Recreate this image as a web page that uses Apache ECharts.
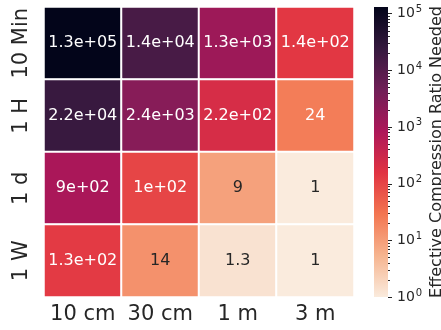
<!DOCTYPE html>
<html>
<head>
<meta charset="utf-8">
<script src="https://cdn.jsdelivr.net/npm/echarts@6/dist/echarts.min.js"></script>
<style>html,body{margin:0;padding:0;background:#fff;}#c{width:441px;height:330px;}</style>
</head>
<body>
<div id="c"></div>
<script>
// ---- data ----
var xCategories = ['10 cm', '30 cm', '1 m', '3 m'];
var yCategories = ['10 Min', '1 H', '1 d', '1 W'];
var row10Min = [130000, 14000, 1300, 140];
var row1H = [22000, 2400, 220, 24];
var row1d = [900, 100, 9, 1];
var row1W = [130, 14, 1.3, 1];
var colorbarTicks = [0, 1, 2, 3, 4, 5]; // log10 exponents
var colorbarTitle = 'Effective Compression Ratio Needed';

var rows = [row10Min, row1H, row1d, row1W];
var allVals = [].concat.apply([], rows);
var LOGMIN = Math.log10(Math.min.apply(null, allVals));
var LOGMAX = Math.log10(Math.max.apply(null, allVals));

// rocket colormap (dark -> light)
var rocket = [
  [0.0, [3, 5, 26]],
  [1/7, [53, 25, 62]],
  [2/7, [112, 31, 87]],
  [3/7, [173, 23, 89]],
  [4/7, [225, 51, 66]],
  [5/7, [243, 118, 81]],
  [6/7, [246, 180, 143]],
  [1.0, [250, 235, 221]]
];
function hex(c){return '#'+c.map(function(v){var h=Math.round(v).toString(16);return h.length<2?'0'+h:h;}).join('');}
function rocketAt(p){
  for(var i=0;i<rocket.length-1;i++){
    var a=rocket[i],b=rocket[i+1];
    if(p<=b[0]){var f=(p-a[0])/(b[0]-a[0]);return [0,1,2].map(function(k){return a[1][k]+(b[1][k]-a[1][k])*f;});}
  }
  return rocket[rocket.length-1][1];
}
function lum(c){
  var l=c.map(function(v){v/=255;return v<=0.03928?v/12.92:Math.pow((v+0.055)/1.055,2.4);});
  return 0.2126*l[0]+0.7152*l[1]+0.0722*l[2];
}
function fmtG(v){
  var s=v.toPrecision(2);
  if(s.indexOf('e')>=0){
    var parts=s.split('e');var m=parts[0];
    if(m.indexOf('.')>=0){m=m.replace(/0+$/,'').replace(/\.$/,'');}
    var sign=parts[1][0];var ex=parts[1].slice(1);if(ex.length<2)ex='0'+ex;
    return m+'e'+sign+ex;
  }
  if(s.indexOf('.')>=0){s=s.replace(/0+$/,'').replace(/\.$/,'');}
  return s;
}

var heatData=[];
rows.forEach(function(r,yi){
  r.forEach(function(v,xi){
    var lv=Math.log10(v);
    var t=(lv-LOGMIN)/(LOGMAX-LOGMIN);
    var c=rocketAt(1-t);
    heatData.push({value:[xi,yi,lv,v],label:{color: lum(c)>0.38?'#262626':'#ffffff'}});
  });
});

var inRange=[];
for(var i=rocket.length-1;i>=0;i--) inRange.push(hex(rocket[i][1]));
var gradStops=rocket.map(function(s){return {offset:s[0],color:hex(s[1])};});

var minorTicks=[];
for(var n=0;n<5;n++){for(var k=2;k<=9;k++){var mv=Math.log10(k*Math.pow(10,n));if(mv<=LOGMAX)minorTicks.push(mv);}}
var tickData=colorbarTicks.map(function(v){return [1,v,1];}).concat(minorTicks.map(function(v){return [1,v,0];}));

var chart=echarts.init(document.getElementById('c'),null,{renderer:'canvas'});
var FONT='"DejaVu Sans", sans-serif';
chart.setOption({
  animation:false,
  textStyle:{fontFamily:FONT},
  grid:[
    {left:44,top:7,width:310,height:290,outerBoundsMode:'none'},
    {left:374,top:7,width:14,height:290,outerBoundsMode:'none',show:true,borderWidth:0,
     backgroundColor:new echarts.graphic.LinearGradient(0,0,0,1,gradStops)}
  ],
  graphic:[
    {type:'text',x:429,y:152,rotation:Math.PI/2,
     style:{text:colorbarTitle,font:'16px "DejaVu Sans"',fill:'#262626',align:'center',verticalAlign:'top'}}
  ],
  xAxis:[
    {type:'category',gridIndex:0,data:xCategories,axisLine:{show:false},axisTick:{show:false},splitLine:{show:false},
     axisLabel:{interval:0,fontSize:21,color:'#262626',margin:7,fontFamily:FONT}},
    {type:'value',gridIndex:1,min:0,max:1,show:false}
  ],
  yAxis:[
    {type:'category',gridIndex:0,data:yCategories,inverse:true,axisLine:{show:false},axisTick:{show:false},splitLine:{show:false},
     axisLabel:{interval:0,fontSize:21,color:'#262626',rotate:90,margin:12,fontFamily:FONT}},
    {type:'value',gridIndex:1,min:LOGMIN,max:LOGMAX,position:'right',
     axisLine:{show:false},splitLine:{show:false},axisTick:{show:false},
     axisLabel:{customValues:colorbarTicks,margin:9,color:'#262626',fontSize:14,fontFamily:FONT,
       formatter:function(v){return '{b|10}{s|'+Math.round(v)+'}';},
       rich:{b:{fontSize:14,fontFamily:FONT,color:'#262626'},
             s:{fontSize:10,verticalAlign:'top',color:'#262626',fontFamily:FONT,padding:[0,0,8,1]}}}}
  ],
  visualMap:{type:'continuous',show:false,min:LOGMIN,max:LOGMAX,dimension:2,seriesIndex:0,inRange:{color:inRange}},
  series:[
    {type:'heatmap',xAxisIndex:0,yAxisIndex:0,data:heatData,
     itemStyle:{borderColor:'#ffffff',borderWidth:2},
     label:{show:true,fontSize:16,fontFamily:FONT,formatter:function(p){return fmtG(p.value[3]);}}},
    {type:'custom',xAxisIndex:1,yAxisIndex:1,data:tickData,clip:false,z:10,silent:true,
     renderItem:function(params,api){
       var p=api.coord([api.value(0),api.value(1)]);
       var len=api.value(2)?4:2;
       var y=Math.round(p[1])+0.5;
       return {type:'line',shape:{x1:p[0],y1:y,x2:p[0]+len,y2:y},
         style:{stroke:'#262626',lineWidth:1}};
     }}
  ]
});
</script>
</body>
</html>
